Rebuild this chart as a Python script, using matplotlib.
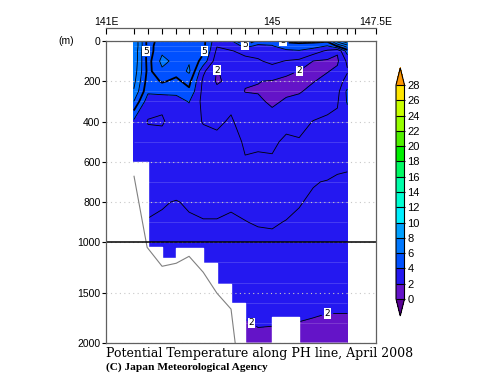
import numpy as np
import matplotlib
matplotlib.use("Agg")
import matplotlib.pyplot as plt
from matplotlib.colors import ListedColormap, BoundaryNorm

# station longitudes along the PH line (last one: tick only, no data)
station_lon = [141.67, 142.01, 142.35, 142.69, 143.00, 143.34, 143.67, 144.01,
               144.35, 144.66, 145.00, 145.34, 145.65, 145.99, 146.33, 146.57,
               146.81, 147.00]
depth = [0, 25, 50, 100, 150, 200, 250, 300, 400, 500, 600, 700, 800, 900,
         1000, 1200, 1400, 1600, 1800, 2000]

# potential temperature (degC), one list per station, values at `depth`
st00 = [8.0, 8.0, 7.9, 7.8, 7.6, 7.3, 6.9, 6.0, 3.8, 3.5, 3.4, 3.35, 3.2, 3.05, 2.9, 2.6, 2.4, 2.2, 2.0, 1.9]
st01 = [4.6, 4.6, 4.5, 4.6, 4.7, 4.5, 4.2, 3.4, 2.95, 3.3, 3.35, 3.3, 3.08, 2.98, 2.9, 2.6, 2.4, 2.2, 2.0, 1.9]
st02 = [5.4, 5.6, 5.8, 6.3, 5.8, 5.1, 4.4, 3.2, 2.9, 3.35, 3.35, 3.25, 3.03, 2.95, 2.9, 2.6, 2.4, 2.2, 2.0, 1.9]
st03 = [5.4, 5.5, 5.6, 5.7, 5.3, 4.8, 4.2, 3.7, 3.4, 3.4, 3.3, 3.2, 2.98, 2.95, 2.9, 2.6, 2.4, 2.2, 2.0, 1.9]
st04 = [5.3, 5.5, 5.7, 5.9, 6.2, 5.3, 4.8, 4.05, 3.4, 3.4, 3.35, 3.25, 3.05, 2.95, 2.9, 2.6, 2.4, 2.2, 2.0, 1.9]
st05 = [5.3, 5.3, 5.2, 4.6, 3.2, 2.8, 2.7, 2.7, 2.95, 3.3, 3.35, 3.3, 3.1, 2.98, 2.9, 2.6, 2.4, 2.2, 2.0, 1.9]
st06 = [3.3, 3.05, 2.8, 2.4, 1.95, 1.9, 2.2, 2.6, 2.85, 3.2, 3.35, 3.3, 3.1, 2.98, 2.9, 2.6, 2.4, 2.2, 2.0, 1.9]
st07 = [3.8, 3.3, 2.95, 2.6, 2.3, 2.2, 2.4, 2.8, 3.1, 3.3, 3.35, 3.25, 3.05, 2.95, 2.9, 2.6, 2.4, 2.2, 2.0, 1.9]
st08 = [6.6, 4.3, 3.2, 2.8, 2.4, 2.05, 1.98, 2.2, 2.6, 2.9, 3.05, 3.2, 3.1, 2.99, 2.9, 2.62, 2.38, 2.15, 1.97, 1.85]
st09 = [4.5, 3.8, 3.3, 2.9, 2.4, 2.02, 1.95, 2.15, 2.5, 2.85, 3.15, 3.3, 3.15, 3.03, 2.9, 2.62, 2.4, 2.2, 2.03, 1.9]
st10 = [4.3, 3.95, 3.6, 3.2, 2.6, 1.95, 1.7, 1.85, 2.35, 2.85, 3.1, 3.3, 3.2, 3.05, 2.9, 2.62, 2.4, 2.2, 2.02, 1.9]
st11 = [5.2, 4.5, 3.8, 2.95, 2.2, 1.8, 1.85, 2.1, 2.75, 3.15, 3.3, 3.35, 3.15, 2.98, 2.9, 2.6, 2.38, 2.17, 1.99, 1.88]
st12 = [5.3, 4.6, 3.9, 2.8, 1.98, 1.7, 1.9, 2.3, 2.8, 3.05, 3.3, 3.3, 3.02, 2.95, 2.9, 2.6, 2.38, 2.17, 1.99, 1.88]
st13 = [5.3, 4.4, 3.5, 1.98, 1.75, 1.95, 2.3, 2.6, 3.02, 3.3, 3.35, 3.02, 2.95, 2.92, 2.88, 2.6, 2.35, 2.12, 1.96, 1.85]
st14 = [5.2, 3.95, 2.8, 1.85, 1.95, 2.3, 2.6, 2.8, 3.1, 3.3, 3.2, 2.98, 2.95, 2.92, 2.88, 2.55, 2.3, 2.08, 1.93, 1.83]
st15 = [7.5, 5.1, 2.1, 1.85, 2.2, 2.5, 2.7, 2.9, 3.2, 3.3, 3.05, 2.97, 2.93, 2.9, 2.87, 2.55, 2.3, 2.08, 1.93, 1.83]
st16 = [9.0, 6.5, 4.5, 3.2, 2.9, 3.4, 4.2, 4.1, 3.5, 3.4, 3.03, 2.97, 2.95, 2.9, 2.87, 2.55, 2.3, 2.08, 1.93, 1.83]
temp_columns = [st00, st01, st02, st03, st04, st05, st06, st07, st08, st09,
                st10, st11, st12, st13, st14, st15, st16]

# bottom of data between neighbouring stations (m), last value repeated
cell_bottom = [600, 1050, 1155, 1055, 1055, 1205, 1410, 1605, 2000, 2000,
               1745, 1745, 2000, 2000, 2000, 2000, 2000]

# sea floor profile
topo_lon = [141.675, 141.99, 142.35, 142.69, 143.0, 143.34, 143.67, 144.01, 144.11]
topo_depth = [672, 1050, 1238, 1208, 1139, 1297, 1505, 1663, 2000]

levels = list(range(0, 30, 2))
shade_colors = ['#6414c8', '#2418f0', '#0050ff', '#0078ff', '#00a0ff',
                '#00f0ff', '#00ffd2', '#00ffaa', '#00fa64', '#00f000',
                '#50f000', '#96ff00', '#c8ff00', '#ffe600']
under_color = '#5a0096'
over_color = '#ff9600'

lon_labels = {141: '141E', 145: '145', 147.5: '147.5E'}
depth_ticks = [0, 200, 400, 600, 800, 1000, 1500, 2000]

label_font = 'Liberation Sans'


def fwd(d):
    d = np.asarray(d, dtype=float)
    return np.where(d <= 1000, d, 1000 + (d - 1000) * 0.5)


def inv(y):
    y = np.asarray(y, dtype=float)
    return np.where(y <= 1000, y, 1000 + (y - 1000) * 2.0)


data_lon = np.array(station_lon[:len(temp_columns)])
temp = np.array(temp_columns).T

# contour lines only where there is water around the station
cb_arr = np.array(cell_bottom)
station_bottom = np.maximum(cb_arr, np.r_[cb_arr[0], cb_arr[:-1]])
below = np.array(depth)[:, None] > station_bottom[None, :]
temp_lines = np.ma.masked_where(below, temp)

cmap = ListedColormap(shade_colors)
cmap.set_under(under_color)
cmap.set_over(over_color)
norm = BoundaryNorm(levels, cmap.N)

fig = plt.figure(figsize=(5, 3.87), dpi=100)
ax = fig.add_axes([0.212, 0.1137, 0.54, 0.7804])

ax.set_yscale('function', functions=(fwd, inv))
ax.set_xlim(141, 147.5)
ax.set_ylim(2000, 0)

cf = ax.contourf(data_lon, depth, temp, levels=levels, cmap=cmap, norm=norm,
                 extend='both', zorder=1)

# faint stripes at the observed depths, as in the original rendering
ax.hlines(depth[1:-1], data_lon[0], data_lon[-1], colors='white',
          alpha=0.18, lw=0.6, zorder=1.5)

line_levels = list(range(1, 29))
widths = [1.3 if v == 5 else 0.6 for v in line_levels]
cs = ax.contour(data_lon, depth, temp_lines, levels=line_levels, colors='k',
                linewidths=widths, zorder=2)
labels = ax.clabel(cs, levels=[2, 5], fmt='%d', fontsize=6.5, inline=True,
                   inline_spacing=3)
for t in labels:
    t.set_rotation(0)
    t.set_bbox(dict(facecolor='white', edgecolor='none', pad=0.6))
    t.set_zorder(2.2)

# sea floor mask and profile
x0 = ax.get_xlim()[0]
ax.fill_between(np.r_[x0, data_lon], np.r_[cell_bottom[0], cell_bottom], 2000,
                step='post', facecolor='white', edgecolor='white', lw=1.0,
                zorder=2.4)
ax.plot(topo_lon, topo_depth, color='#808080', lw=0.8, zorder=4)
ax.axhline(1000, color='black', lw=1.1, zorder=5)

ax.set_axisbelow(False)
ax.grid(axis='y', color='#c8c8c8', ls=(0, (1, 3)), lw=0.8)
ax.set_yticks(depth_ticks)
ax.set_yticklabels([str(d) for d in depth_ticks])
ax.tick_params(axis='x', bottom=False, labelbottom=False)
ax.tick_params(axis='y', direction='out', length=3, width=0.8,
               labelsize=7.5, pad=1)
for lab in ax.get_yticklabels():
    lab.set_family(label_font)
for sp in ax.spines.values():
    sp.set_color('#606060')
    sp.set_linewidth(0.9)
    sp.set_zorder(6)

# longitude axis drawn above the box
top = ax.secondary_xaxis(1.043)
top.set_xticks(list(lon_labels.keys()))
top.set_xticklabels(list(lon_labels.values()))
top.set_xticks(station_lon, minor=True)
top.tick_params(which='both', direction='in', length=4, width=0.8,
                labelsize=7.5, pad=1)
for lab in top.get_xticklabels():
    lab.set_family(label_font)
top.spines['top'].set_color('#606060')
top.spines['top'].set_linewidth(0.9)

fig.text(0.132, 0.894, '(m)', ha='center', va='center', fontsize=7.5,
         family=label_font)

# colour bar
cax = fig.add_axes([0.792, 0.1835, 0.017, 0.641])
cb = fig.colorbar(cf, cax=cax, extend='both', extendfrac=0.08,
                  drawedges=True, ticks=levels)
cb.outline.set_linewidth(0.8)
cb.dividers.set_color('black')
cb.dividers.set_linewidth(0.8)
cax.tick_params(length=0, labelsize=8, pad=2)
for lab in cax.get_yticklabels():
    lab.set_family(label_font)

fig.text(0.212, 0.104, 'Potential Temperature along PH line, April 2008',
         family='DejaVu Serif', fontsize=9, va='top')
fig.text(0.212, 0.064, '(C) Japan Meteorological Agency',
         family='Liberation Serif', weight='bold', fontsize=8.2, va='top')

fig.savefig('out.png', dpi=100)
